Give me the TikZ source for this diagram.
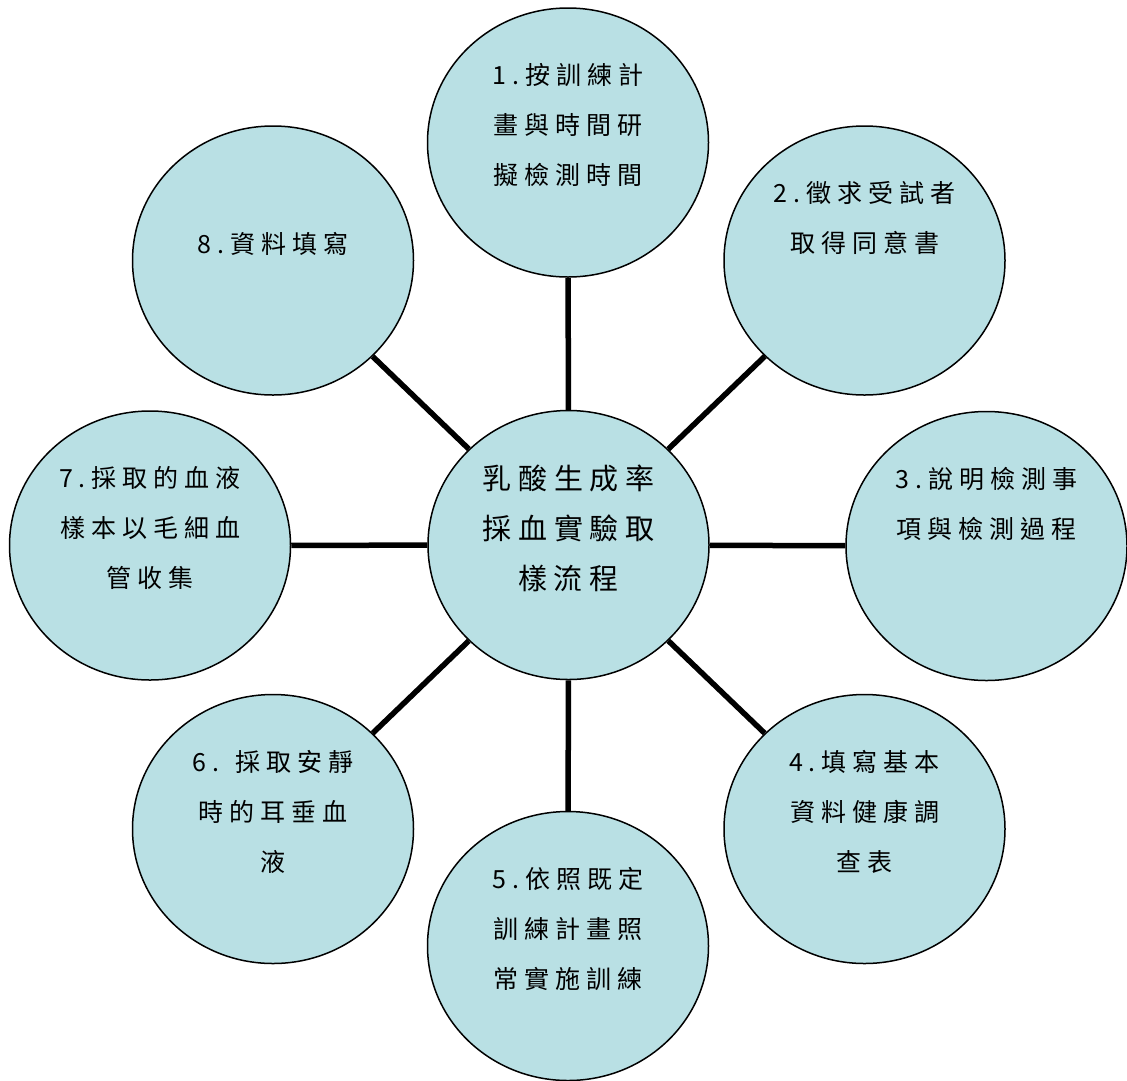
\documentclass[tikz,border=0pt]{standalone}
\usepackage{fontspec}
\usetikzlibrary{shapes.geometric}
\newfontfamily\cjkouter[LetterSpace=24]{Noto Sans CJK TC}
\newfontfamily\cjkcenter[LetterSpace=23]{Noto Sans CJK TC}
\newcommand\stacklines[1]{\vtop{\baselineskip=50pt\halign{\hfil##\hfil\cr#1\crcr}}}
\definecolor{bubblefill}{RGB}{185,224,228}
\begin{document}
\begin{tikzpicture}[x=1pt,y=-1pt,
  bubble/.style={ellipse,draw=black,line width=1.5pt,fill=bubblefill,minimum width=281pt,minimum height=269pt,inner sep=0pt},
  txt/.style={anchor=base,inner sep=0pt,font=\cjkouter\fontsize{25pt}{50pt}\selectfont,yshift=58pt},
  ctxt/.style={anchor=base,inner sep=0pt,font=\cjkcenter\fontsize{29pt}{50pt}\selectfont,yshift=56pt},
  link/.style={line width=5.5pt,draw=black}]
\useasboundingbox (0,0) rectangle (1127,1080);
\node[bubble] (c0) at (568.5,545) {};
\node[bubble] (c1) at (568,142.5) {};
\node[bubble] (c2) at (864.5,260.5) {};
\node[bubble] (c3) at (986.5,546) {};
\node[bubble] (c4) at (864.5,829) {};
\node[bubble] (c5) at (568,946) {};
\node[bubble] (c6) at (273,829) {};
\node[bubble] (c7) at (150,545.5) {};
\node[bubble] (c8) at (273,260.5) {};
\foreach \i in {1,...,8} {\draw[link] (c0) -- (c\i);}
\node[ctxt] (t0) at (c0.center) {\stacklines{乳酸生成率\cr 採血實驗取\cr 樣流程}};
\node[txt] (t1) at (c1.center) {\stacklines{1.按訓練計\cr 畫與時間研\cr 擬檢測時間}};
\node[txt] (t2) at (c2.center) {\stacklines{2.徵求受試者\cr 取得同意書}};
\node[txt] (t3) at (c3.center) {\stacklines{3.說明檢測事\cr 項與檢測過程}};
\node[txt] (t4) at (c4.center) {\stacklines{4.填寫基本\cr 資料健康調\cr 查表}};
\node[txt] (t5) at (c5.center) {\stacklines{5.依照既定\cr 訓練計畫照\cr 常實施訓練}};
\node[txt] (t6) at (c6.center) {\stacklines{6. 採取安靜\cr 時的耳垂血\cr 液}};
\node[txt] (t7) at (c7.center) {\stacklines{7.採取的血液\cr 樣本以毛細血\cr 管收集}};
\node[txt,yshift=-51pt] (t8) at (c8.center) {\stacklines{8.資料填寫}};
\end{tikzpicture}
\end{document}
